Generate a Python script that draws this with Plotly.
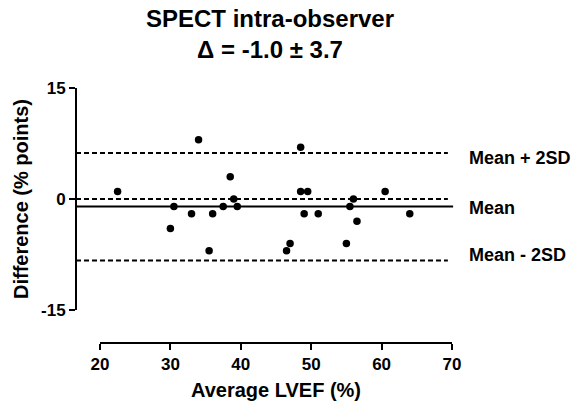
import plotly.graph_objects as go

# ---- data ----
avg_lvef = [22.5, 34, 30.5, 30, 33, 36, 35.5, 37.5, 38.5, 39, 39.5,
            48.5, 48.5, 49.5, 49, 51, 46.5, 47, 55, 55.5, 56, 56.5, 60.5, 64]
difference = [1, 8, -1, -4, -2, -2, -7, -1, 3, 0, -1,
              7, 1, 1, -2, -2, -7, -6, -6, -1, 0, -3, 1, -2]
bias = -1.0
sd = 3.7
upper_loa = 6.2
lower_loa = -8.3
zero_ref = 0
x_ticks = [20, 30, 40, 50, 60, 70]
y_ticks = [-15, 0, 15]
line_labels = ["Mean + 2SD", "Mean", "Mean - 2SD"]

FONT = "Liberation Sans, Arial, sans-serif"
W, H = 574, 401
L, R, T, B = 76, 122, 88, 58
pw, ph = W - L - R, H - T - B

fig = go.Figure()
fig.add_trace(go.Scatter(
    x=avg_lvef, y=difference, mode="markers",
    marker=dict(color="black", size=7.5, symbol="circle"),
    showlegend=False, cliponaxis=False,
))

# reference lines
dash_style = dict(color="black", width=2, dash="5px,3px")
for val in [upper_loa, zero_ref, lower_loa]:
    fig.add_shape(type="line", xref="paper", yref="y", x0=0, x1=0.989,
                  y0=val, y1=val, line=dash_style, layer="below")
fig.add_shape(type="line", xref="paper", yref="y", x0=0, x1=1.003,
              y0=bias, y1=bias, line=dict(color="black", width=2), layer="below")

# line labels
for txt, val, ys in zip(line_labels, [upper_loa, bias, lower_loa], [-5, -1.5, 5]):
    fig.add_annotation(text=txt, xref="paper", yref="y", x=1, y=val,
                       xanchor="left", yanchor="middle", xshift=15, yshift=ys,
                       showarrow=False,
                       font=dict(family=FONT, size=18, color="black", weight="bold"))

fig.update_layout(
    width=W, height=H,
    margin=dict(l=L, r=R, t=T, b=B, autoexpand=False),
    paper_bgcolor="white", plot_bgcolor="white",
    font=dict(family=FONT, color="black"),
    title=dict(
        text=f"SPECT intra-observer<br>\u0394 = {bias:.1f} \u00b1 {sd:.1f}",
        x=270 / W, xanchor="center", xref="container",
        y=1 - 27 / H, yanchor="middle", yref="container",
        font=dict(family=FONT, size=24, color="black", weight="bold"),
    ),
    xaxis=dict(
        range=[20, 70], domain=[(100 - L) / pw, 1],
        anchor="free", position=0,
        tickvals=x_ticks, ticktext=[str(v) for v in x_ticks],
        showline=True, linecolor="black", linewidth=2,
        ticks="outside", ticklen=6, tickwidth=2, tickcolor="black",
        showgrid=False, zeroline=False,
        tickfont=dict(family=FONT, size=17, color="black", weight="bold"),
        title=dict(text="Average LVEF (%)", standoff=11,
                   font=dict(family=FONT, size=20, color="black", weight="bold")),
        automargin=False,
    ),
    yaxis=dict(
        range=[-15, 15], domain=[(H - B - 310) / ph, 1],
        anchor="free", position=0,
        tickvals=y_ticks, ticktext=[str(v) for v in y_ticks],
        showline=True, linecolor="black", linewidth=2,
        ticks="outside", ticklen=6, tickwidth=2, tickcolor="black",
        showgrid=False, zeroline=False,
        tickfont=dict(family=FONT, size=17, color="black", weight="bold"),
        title=dict(text="Difference (% points)", standoff=6,
                   font=dict(family=FONT, size=20, color="black", weight="bold")),
        automargin=False,
    ),
)

fig.write_html(
    "out.html",
    config={"displayModeBar": False},
    post_script="document.body.style.margin='0';document.body.style.padding='0';",
)
